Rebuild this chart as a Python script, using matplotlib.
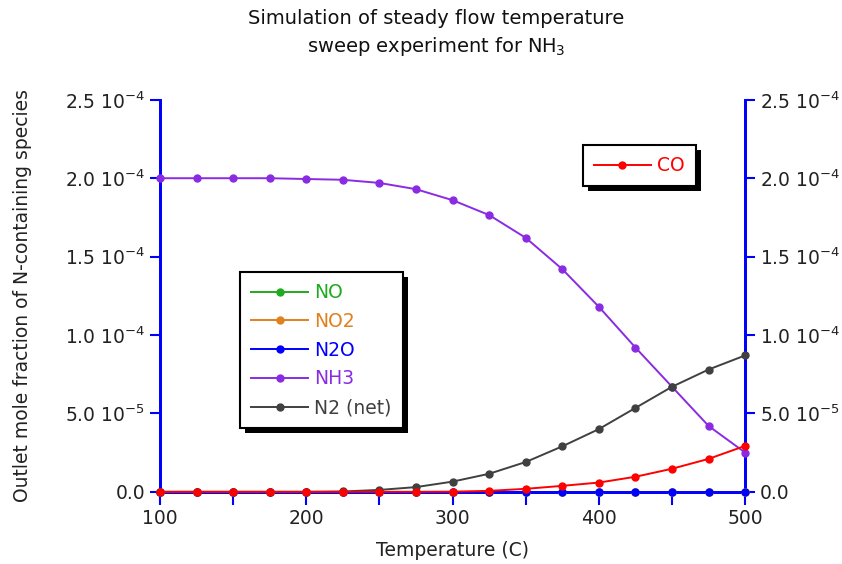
import numpy as np
import matplotlib
matplotlib.use("Agg")
import matplotlib.pyplot as plt
from matplotlib.ticker import FixedLocator, MultipleLocator
from matplotlib.patches import Rectangle
from matplotlib.transforms import IdentityTransform

# temperatures (C), one point every 25 C
temps = [100, 125, 150, 175, 200, 225, 250, 275, 300, 325, 350, 375, 400, 425, 450, 475, 500]

# outlet mole fractions, units of 1e-4
no_vals = [0.0] * 17
no2_vals = [0.0] * 17
n2o_vals = [0.0] * 17
nh3_vals = [2.0, 2.0, 2.0, 2.0, 1.995, 1.99, 1.97, 1.93, 1.86, 1.765, 1.62, 1.42, 1.18, 0.92, 0.67, 0.42, 0.25]
n2_vals = [0.0, 0.0, 0.0, 0.0, 0.0, 0.002, 0.012, 0.03, 0.065, 0.115, 0.19, 0.29, 0.40, 0.535, 0.67, 0.78, 0.87]
co_vals = [0.0, 0.0, 0.0, 0.0, 0.0, 0.0, 0.0, 0.0, 0.001, 0.006, 0.019, 0.038, 0.059, 0.096, 0.147, 0.21, 0.293]

y_ticks = [0.0, 5e-5, 1e-4, 1.5e-4, 2e-4, 2.5e-4]
y_tick_labels = ["0.0", r"5.0 10$^{-5}$", r"1.0 10$^{-4}$", r"1.5 10$^{-4}$", r"2.0 10$^{-4}$", r"2.5 10$^{-4}$"]

plt.rcParams['font.family'] = ['DejaVu Sans']
plt.rcParams['mathtext.fontset'] = 'dejavusans'

fig = plt.figure(figsize=(8.42, 5.64), dpi=100)
ax = fig.add_axes([0.19, 0.128, 0.695, 0.695])
ax2 = ax.twinx()

t = np.array(temps)
scale = 1e-4
ms = 5
lw = 1.4

series = [
    ("NO", no_vals, "#1faa1f"),
    ("NO2", no2_vals, "#e0801f"),
    ("N2O", n2o_vals, "#0000ff"),
    ("NH3", nh3_vals, "#8a2be2"),
    ("N2 (net)", n2_vals, "#404040"),
]
for name, vals, col in series:
    ax.plot(t, np.array(vals) * scale, '-o', color=col, ms=ms, lw=lw, label=name, clip_on=False, zorder=3)

co_line, = ax.plot(t, np.array(co_vals) * scale, '-o', color="#ff0000", ms=ms, lw=lw, label="CO",
                   clip_on=False, zorder=4)

for a in (ax, ax2):
    a.set_xlim(100, 500)
    a.set_ylim(0, 2.5e-4)
    a.yaxis.set_major_locator(FixedLocator(y_ticks))
    a.set_yticklabels(y_tick_labels)
    a.spines['top'].set_visible(False)
    for s in ('left', 'right', 'bottom'):
        a.spines[s].set_color('#0000ff')
        a.spines[s].set_linewidth(2)
    a.tick_params(axis='both', which='both', direction='out', color='#0000ff', width=1.5, length=7,
                  labelsize=13.5, labelcolor='#222222')

ax.set_zorder(ax2.get_zorder() + 1)
ax.patch.set_visible(False)

ax.xaxis.set_major_locator(MultipleLocator(100))
ax.xaxis.set_minor_locator(MultipleLocator(50))
ax.tick_params(axis='x', which='both', length=9)

ax.set_xlabel("Temperature (C)", fontsize=13.5, color='#222222', labelpad=9)
ax.set_ylabel("Outlet mole fraction of N-containing species", fontsize=13.5, color='#222222', labelpad=24)
fig.text(0.518, 0.984, "Simulation of steady flow temperature\nsweep experiment for NH$_3$", fontsize=14,
         color='#111111', ha='center', va='top', linespacing=1.4)

handles, labels = ax.get_legend_handles_labels()
leg_opts = dict(loc='upper left', fancybox=False, shadow=False, frameon=True, edgecolor='black',
                fontsize=13.5, labelcolor='linecolor', handlelength=3.0, numpoints=1,
                borderpad=0.6, handletextpad=0.35, borderaxespad=0, framealpha=1)

leg = ax.legend(handles[:5], labels[:5], bbox_to_anchor=(0.137, 0.561), labelspacing=0.52, **leg_opts)
leg.get_frame().set_linewidth(1.5)
ax.add_artist(leg)

leg2 = ax.legend([co_line], ["CO"], bbox_to_anchor=(0.723, 0.885), **leg_opts)
leg2.get_frame().set_linewidth(1.5)

# solid black drop shadow, offset down-right like the original
fig.canvas.draw()
for lg in (leg, leg2):
    bb = lg.get_frame().get_window_extent()
    ax.add_artist(Rectangle((bb.x0 + 5, bb.y0 - 5), bb.width, bb.height, transform=IdentityTransform(),
                            facecolor='black', edgecolor='none', zorder=4.9, clip_on=False))

fig.savefig("out.png", dpi=100)
